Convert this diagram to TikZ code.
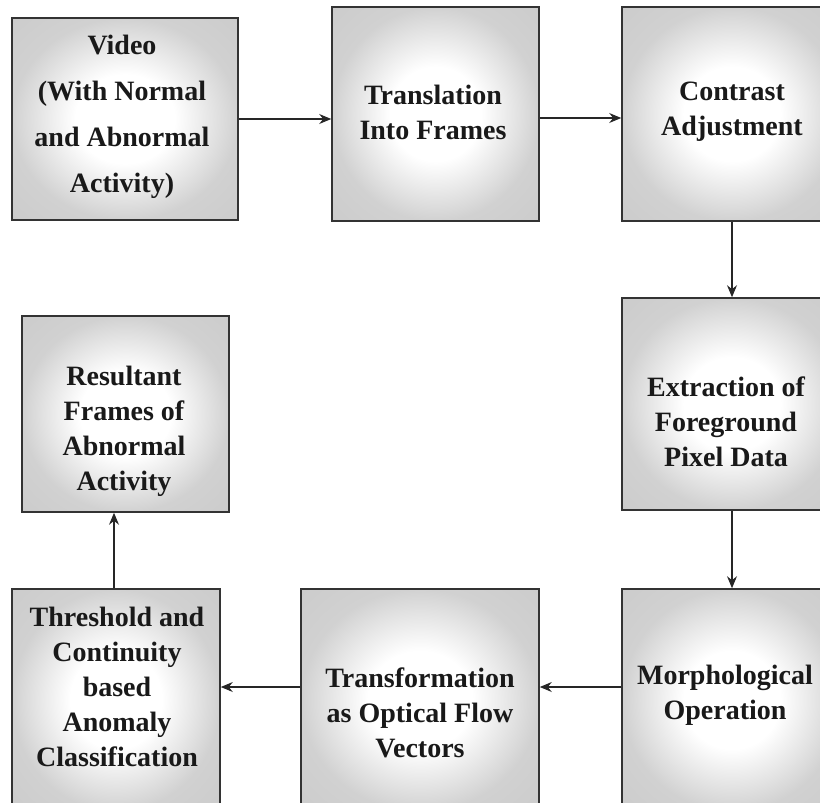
\documentclass[tikz,border=0pt]{standalone}
\usepackage{fontspec}
\setmainfont{Liberation Serif}
\usetikzlibrary{arrows.meta}
\pgfdeclareradialshading{boxshade}{\pgfpoint{0bp}{0bp}}{color(0bp)=(white); color(11bp)=(white); color(25bp)=(black!18); color(50bp)=(black!23)}
\begin{document}
\begin{tikzpicture}[x=1pt,y=-1pt,
  box/.style={draw=black!80, line width=1.6pt, shading=boxshade, rectangle, inner sep=0pt},
  lbl/.style={font=\bfseries\fontsize{28}{35}\selectfont, align=center, inner sep=0pt, text=black!90},
  conn/.style={line width=1.1pt, draw=black!85, -{Stealth[length=12pt,width=10pt,inset=4pt]}}]
\useasboundingbox (0,0) rectangle (820,803);
\clip (0,0) rectangle (820,803);
% boxes
\node[box, minimum width=226pt, minimum height=202pt] (video) at (125,119) {};
\node[box, minimum width=207pt, minimum height=214pt] (trans) at (435.5,114) {};
\node[box, minimum width=220pt, minimum height=214pt] (contrast) at (732,114) {};
\node[box, minimum width=220pt, minimum height=212pt] (extract) at (732,404) {};
\node[box, minimum width=220pt, minimum height=222pt] (morph) at (732,700) {};
\node[box, minimum width=238pt, minimum height=222pt] (transf) at (420,700) {};
\node[box, minimum width=208pt, minimum height=222pt] (thresh) at (116,700) {};
\node[box, minimum width=207pt, minimum height=196pt] (result) at (125.5,414) {};
% labels
\node[lbl, font=\bfseries\fontsize{28}{46}\selectfont] (tvideo) at (122,117) {Video\\(With Normal\\and Abnormal\\Activity)};
\node[lbl] (ttrans) at (433,112) {Translation\\Into Frames};
\node[lbl] (tcontrast) at (732,112) {Contrast\\Adjustment};
\node[lbl] (textract) at (726,422) {Extraction of\\Foreground\\Pixel Data};
\node[lbl] (tmorph) at (725,695) {Morphological\\Operation};
\node[lbl] (ttransf) at (420,713) {Transformation\\as Optical Flow\\Vectors};
\node[lbl] (tthresh) at (117,687) {Threshold and\\Continuity\\based\\Anomaly\\Classification};
\node[lbl] (tresult) at (124,431) {Resultant\\Frames of\\Abnormal\\Activity};
% connectors
\draw[conn] (video.east) -- (video.east -| trans.west);
\draw[conn] ([yshift=-4pt]trans.east) -- ([yshift=-4pt]trans.east -| contrast.west);
\draw[conn] (contrast.south) -- (extract.north);
\draw[conn] (extract.south) -- (morph.north);
\draw[conn] ([yshift=13pt]morph.west) -- ([yshift=13pt]transf.east);
\draw[conn] ([yshift=13pt]transf.west) -- ([yshift=13pt]thresh.east);
\draw[conn] ([xshift=-2pt]thresh.north) -- ([xshift=-2pt]thresh.north |- result.south);
\end{tikzpicture}
\end{document}
